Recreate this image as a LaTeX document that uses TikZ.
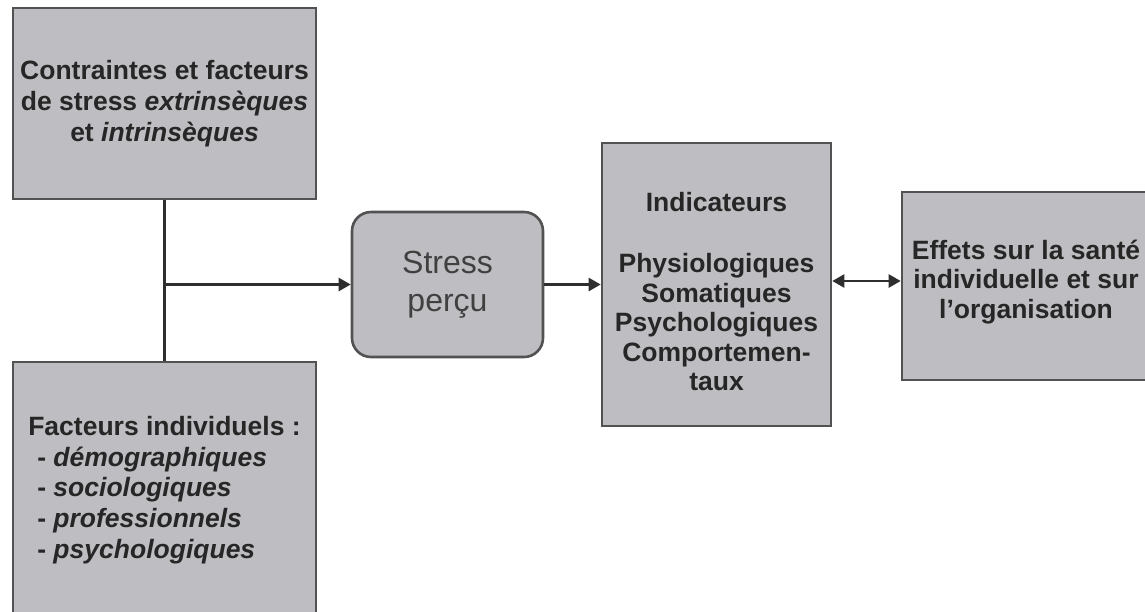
\documentclass[tikz,border=0pt]{standalone}
\usepackage{fontspec}
\setmainfont{Liberation Sans}
\usetikzlibrary{arrows.meta}
\definecolor{boxfill}{HTML}{BEBEC2}
\definecolor{boxline}{HTML}{525252}
\definecolor{wire}{HTML}{2E2E2E}
\begin{document}
\begin{tikzpicture}[x=1pt,y=-1pt,
  box/.style={draw=boxline, fill=boxfill, line width=2.6pt, inner sep=0pt,
    font=\bfseries\fontsize{26.5}{30.8}\selectfont, text=black!85},
  boxtext/.style={inner sep=0pt, align=center,
    font=\bfseries\fontsize{26.5}{29.6}\selectfont, text=black!85},
  wirebase/.style={draw=wire, line width=2.4pt},
  head/.tip={Triangle[length=12pt,width=13pt]},
]
\useasboundingbox (0,0) rectangle (1145,611);
% sources of stress
\node[box, minimum width=303, minimum height=191, align=center] (top) at (164.5,103.5)
  {Contraintes et facteurs\\de stress \textit{extrinsèques}\\et \textit{intrinsèques}};
\node[box, minimum width=303, minimum height=256, align=left] (bot) at (164.5,490)
  {Facteurs individuels :\\
   \hspace*{9pt}- \textit{démographiques}\\
   \hspace*{9pt}- \textit{sociologiques}\\
   \hspace*{9pt}- \textit{professionnels}\\
   \hspace*{9pt}- \textit{psychologiques}};
% perceived stress
\node[box, rounded corners=19pt, minimum width=191, minimum height=145, align=center,
  font=\fontsize{32}{38}\selectfont, text=black!75] (stress) at (447.5,284.5)
  {Stress\\perçu};
% indicators
\node[box, minimum width=229, minimum height=283] (ind) at (716.5,284.5) {};
\node[boxtext] (indtext) at (716.5,292)
  {Indicateurs\\[31pt]Physiologiques\\Somatiques\\Psychologiques\\Comportemen-\\taux};
% effects
\node[box, minimum width=248, minimum height=188] (eff) at (1026,286) {};
\node[boxtext] (efftext) at (1026,282)
  {Effets sur la santé\\individuelle et sur\\l'organisation};
% connectors
\draw[wirebase] (top.south) -- (bot.north);
\coordinate (j) at (top.south |- stress.west);
\draw[wirebase, -head] (j) -- (stress.west);
\draw[wirebase, -head] (stress.east) -- (stress.east -| ind.west);
\coordinate (dl) at (ind.east |- 0,281);
\draw[wirebase, head-head] (dl) -- (dl -| eff.west);
\end{tikzpicture}
\end{document}
